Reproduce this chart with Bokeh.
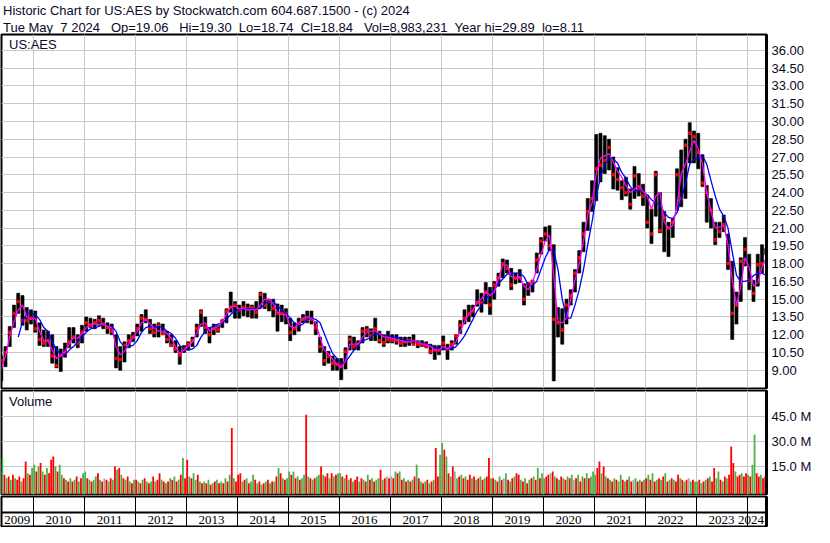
import pandas as pd
from bokeh.plotting import figure
from bokeh.layouts import column
from bokeh.models import (Range1d, FixedTicker, PrintfTickFormatter, Label, LabelSet, LinearAxis,
                          ColumnDataSource, Span, Title)
from bokeh.embed import file_html
from bokeh.resources import INLINE

# ---------------- data ----------------
title_line = "Historic Chart for US:AES by Stockwatch.com 604.687.1500 - (c) 2024"
NB = "\u00a0"
info_line = (f"Tue May{NB*2}7 2024{NB*3}Op=19.06{NB*3}Hi=19.30{NB*2}Lo=18.74{NB*2}"
             f"Cl=18.84{NB*3}Vol=8,983,231{NB*2}Year hi=29.89{NB*2}lo=8.11")
symbol = "US:AES"
volume_title = "Volume"
first_month, last_month = "2009-05", "2024-05"
years = [2009, 2010, 2011, 2012, 2013, 2014, 2015, 2016, 2017, 2018, 2019, 2020, 2021, 2022, 2023, 2024]
year_labels = ["2009", "2010", "2011", "2012", "2013", "2014", "2015", "2016", "2017", "2018",
               "2019", "2020", "2021", "2022", "2023", "2024"]
price_ticks = [9.00, 10.50, 12.00, 13.50, 15.00, 16.50, 18.00, 19.50, 21.00, 22.50, 24.00,
               25.50, 27.00, 28.50, 30.00, 31.50, 33.00, 34.50, 36.00]
volume_ticks = [15, 30, 45]  # millions

# monthly high / low / close, May 2009 .. May 2024
high = [10.2, 11.0, 12.7, 14.5, 15.5, 15.3, 14.3, 14.1,
        14.0, 13.0, 12.4, 12.3, 12.0, 11.0, 10.8, 11.3, 12.6, 12.6, 12.0, 12.8,
        13.5, 13.4, 13.3, 13.6, 13.4, 13.0, 12.9, 12.0, 11.0, 11.4, 12.0, 12.2,
        12.9, 13.7, 14.1, 13.3, 12.9, 13.0, 12.9, 12.3, 12.0, 11.5, 11.0, 11.1,
        11.4, 11.8, 12.9, 14.1, 13.5, 12.6, 12.9, 12.8, 13.2, 14.2, 15.6, 14.8,
        14.5, 14.8, 14.6, 14.5, 14.8, 15.6, 15.5, 15.0, 15.0, 14.6, 14.5, 14.2,
        13.4, 13.0, 13.4, 13.7, 14.0, 14.0, 13.1, 11.8, 11.0, 10.6, 10.2, 10.0,
        10.0, 10.9, 11.9, 11.8, 11.5, 12.6, 12.7, 12.5, 13.4, 12.3, 12.0, 12.3,
        12.0, 12.0, 11.8, 11.8, 11.8, 12.0, 11.5, 11.5, 11.4, 11.2, 11.1, 11.1,
        11.9, 11.2, 11.5, 12.0, 13.2, 14.1, 14.5, 14.5, 15.8, 15.5, 16.4, 16.0,
        16.5, 17.2, 18.4, 18.3, 17.6, 17.2, 17.5, 16.3, 16.4, 16.6, 18.9, 20.2,
        21.1, 21.2, 19.6, 14.3, 14.2, 15.0, 15.8, 17.5, 19.1, 21.5, 23.5, 25.0,
        28.9, 29.0, 28.8, 28.5, 27.0, 26.1, 25.0, 25.3, 24.3, 26.2, 25.6, 24.7,
        23.8, 22.6, 25.8, 24.0, 22.4, 21.5, 21.8, 26.0, 27.6, 28.5, 29.9, 29.2,
        29.0, 27.2, 24.6, 23.5, 21.5, 21.5, 22.1, 20.5, 18.2, 15.6, 18.5, 20.2,
        18.8, 16.6, 18.8, 19.6, 19.3]
low = [8.1, 9.3, 11.0, 12.6, 13.8, 12.8, 12.4, 12.9,
       12.2, 11.1, 11.0, 11.0, 9.6, 9.2, 8.9, 10.1, 10.9, 11.3, 10.9, 11.3,
       12.3, 12.6, 12.5, 12.8, 12.5, 12.1, 12.0, 9.2, 9.0, 9.7, 10.9, 11.4,
       11.9, 12.3, 13.0, 12.1, 11.8, 11.8, 12.0, 11.3, 11.0, 10.5, 9.5, 10.5,
       10.7, 11.0, 11.8, 12.7, 12.1, 11.3, 12.0, 12.2, 12.6, 13.0, 13.9, 13.4,
       13.4, 13.6, 13.5, 13.4, 13.4, 14.3, 14.2, 14.0, 13.5, 12.3, 13.1, 12.9,
       11.5, 12.0, 12.3, 13.0, 13.0, 12.9, 12.0, 10.5, 9.4, 9.6, 9.0, 9.0,
       8.2, 9.1, 10.7, 10.7, 10.7, 11.3, 11.8, 11.5, 11.5, 11.3, 11.0, 11.3,
       11.3, 11.2, 11.0, 11.0, 11.1, 11.2, 10.9, 11.0, 10.9, 10.4, 9.9, 10.3,
       10.7, 9.9, 10.7, 11.2, 12.1, 12.9, 13.1, 13.5, 14.4, 13.9, 14.6, 13.7,
       15.0, 16.1, 16.8, 17.2, 15.8, 16.3, 16.4, 14.5, 15.3, 15.6, 17.2, 18.8,
       19.9, 19.1, 8.1, 11.8, 11.2, 12.9, 14.5, 15.6, 17.2, 19.0, 20.8, 22.4,
       23.3, 24.9, 25.6, 25.9, 24.3, 24.2, 23.4, 23.7, 22.6, 23.5, 23.7, 22.9,
       21.0, 19.7, 22.0, 20.6, 19.0, 18.6, 20.2, 22.5, 22.8, 23.5, 26.5, 26.5,
       26.0, 24.5, 21.5, 21.0, 19.6, 20.2, 20.7, 17.5, 11.6, 12.9, 14.8, 17.8,
       15.8, 14.8, 16.1, 17.2, 18.74]
close = [9.8, 10.5, 12.2, 13.8, 14.8, 13.2, 13.2, 13.4,
         12.5, 11.6, 11.3, 11.5, 10.2, 9.4, 10.3, 10.5, 11.4, 11.8, 11.3, 12.2,
         13.0, 12.8, 13.0, 13.2, 12.9, 12.6, 12.3, 10.0, 9.9, 11.1, 11.5, 11.8,
         12.5, 13.4, 13.3, 12.5, 12.2, 12.8, 12.1, 11.6, 11.1, 10.8, 10.3, 10.8,
         11.2, 11.5, 12.5, 13.9, 12.6, 12.0, 12.5, 12.4, 13.2, 14.0, 14.3, 14.5,
         14.1, 14.3, 14.2, 14.3, 13.9, 15.4, 14.5, 14.8, 14.2, 13.8, 13.8, 13.8,
         12.2, 12.5, 12.9, 13.3, 13.3, 13.3, 12.6, 11.0, 9.8, 10.2, 9.6, 9.5,
         9.4, 10.6, 11.6, 11.0, 11.2, 12.3, 12.4, 11.9, 12.5, 11.5, 11.3, 11.6,
         11.5, 11.5, 11.3, 11.4, 11.5, 11.2, 11.2, 11.2, 11.0, 10.6, 10.7, 10.7,
         11.3, 10.8, 11.2, 11.9, 12.8, 13.4, 13.8, 14.0, 14.7, 14.7, 15.6, 14.5,
         16.2, 16.8, 18.0, 17.6, 16.2, 16.8, 16.8, 15.0, 16.3, 16.5, 18.3, 19.9,
         20.5, 19.5, 13.3, 13.0, 12.4, 14.5, 15.3, 17.2, 18.5, 20.5, 22.4, 23.5,
         26.0, 26.3, 26.7, 27.8, 25.5, 25.1, 24.4, 24.0, 23.0, 25.4, 24.3, 23.7,
         21.5, 20.5, 25.5, 20.8, 21.9, 21.0, 21.5, 25.5, 23.5, 28.0, 29.0, 28.7,
         27.4, 24.8, 24.0, 22.5, 20.0, 20.7, 21.3, 18.0, 13.8, 14.5, 18.2, 19.2,
         16.6, 15.5, 17.9, 18.0, 18.84]
# short (magenta) and long (blue) moving averages as drawn, monthly readings
ma_short = [9.1, 10.2, 11.8, 13.1, 14.1, 14.5, 13.5, 13.3,
            13.4, 12.3, 11.5, 11.5, 10.7, 10.0, 10.2, 10.6, 11.2, 11.8, 11.7, 12.1,
            12.6, 12.9, 12.9, 12.9, 12.9, 12.7, 12.6, 11.0, 10.3, 10.6, 11.2, 11.8,
            12.3, 13.0, 13.3, 12.9, 12.5, 12.3, 12.3, 12.1, 11.7, 11.0, 10.4, 10.7,
            11.0, 11.4, 12.1, 12.9, 13.0, 12.3, 12.5, 12.7, 13.1, 13.7, 14.4, 14.4,
            14.2, 14.2, 14.1, 14.1, 14.1, 14.5, 15.0, 15.0, 14.6, 13.9, 13.7, 13.7,
            12.7, 12.6, 13.0, 13.4, 13.5, 13.4, 13.0, 11.8, 10.7, 10.4, 9.9, 9.5,
            9.2, 9.8, 11.2, 11.2, 11.2, 11.8, 12.2, 12.3, 12.3, 12.1, 11.8, 11.8,
            11.7, 11.6, 11.5, 11.4, 11.4, 11.5, 11.4, 11.2, 11.2, 11.0, 10.7, 10.7,
            11.0, 10.8, 11.0, 11.4, 12.3, 13.1, 13.7, 14.1, 14.8, 15.0, 15.6, 15.3,
            15.6, 16.7, 17.9, 17.9, 16.9, 16.7, 16.9, 16.1, 15.8, 16.4, 17.5, 18.8,
            19.9, 20.4, 17.0, 13.1, 13.0, 13.4, 15.0, 16.6, 18.0, 19.9, 22.1, 23.1,
            25.6, 26.9, 27.1, 27.3, 26.6, 25.8, 25.3, 24.6, 24.0, 24.3, 24.6, 24.1,
            23.7, 22.6, 23.7, 24.0, 21.5, 21.0, 21.2, 22.9, 25.6, 26.4, 27.5, 28.4,
            27.7, 26.4, 24.0, 22.5, 21.0, 21.1, 21.2, 19.6, 16.6, 14.5, 16.1, 18.5,
            17.7, 16.1, 16.4, 17.7, 18.5]
nan = float("nan")
ma_long = [nan, nan, nan, nan, 11.8, 13.1, 13.8, 13.8,
           13.7, 13.3, 12.6, 12.3, 11.4, 10.7, 10.4, 10.3, 10.7, 11.0, 11.4, 11.8,
           12.2, 12.5, 12.6, 12.7, 12.9, 12.7, 12.7, 12.3, 11.4, 11.0, 11.0, 11.1,
           11.5, 12.2, 12.6, 12.7, 12.6, 12.7, 12.6, 12.3, 12.1, 11.7, 11.1, 10.8,
           10.7, 10.8, 11.1, 11.8, 12.3, 12.6, 12.7, 12.9, 13.0, 13.3, 13.7, 14.0,
           14.1, 14.2, 14.2, 14.2, 14.2, 14.2, 14.6, 14.8, 14.8, 14.4, 14.1, 13.8,
           13.4, 13.0, 12.7, 12.9, 13.3, 13.4, 13.3, 13.0, 12.1, 11.2, 10.4, 10.0,
           9.6, 9.7, 10.2, 10.7, 11.1, 11.5, 11.6, 11.8, 12.1, 12.1, 11.9, 11.9,
           11.8, 11.8, 11.7, 11.5, 11.5, 11.5, 11.4, 11.3, 11.2, 11.1, 11.0, 10.8,
           10.8, 10.8, 10.8, 11.0, 11.4, 11.9, 12.6, 13.3, 14.0, 14.5, 15.0, 15.4,
           15.8, 16.3, 16.7, 17.1, 17.2, 17.2, 17.2, 16.9, 16.2, 16.2, 16.5, 17.5,
           18.5, 19.2, 19.1, 17.5, 15.0, 13.4, 13.4, 14.5, 15.8, 17.5, 19.6, 21.5,
           23.7, 25.3, 26.4, 26.8, 26.8, 26.5, 25.7, 25.2, 24.5, 24.1, 24.2, 24.1,
           23.8, 23.4, 23.1, 23.0, 22.3, 21.9, 21.8, 22.3, 23.4, 24.8, 26.4, 26.8,
           26.9, 27.1, 26.4, 25.0, 23.7, 22.6, 22.0, 21.0, 19.0, 17.0, 16.5, 16.5,
           16.6, 17.0, 17.2, 17.2, 17.0]
# half-monthly volume (millions) and its colour code (g=up, r=down, n=unchanged)
volume_by_year = {
    2009: [12, 20, 10, 8, 9, 7, 10, 8, 7, 9, 6, 8, 18, 11, 10, 14],
    2010: [16, 12, 15, 17, 12, 10, 14, 11, 19, 21, 15, 12, 16, 10, 8, 7, 6, 8, 6, 7, 9, 6, 8, 11],
    2011: [12, 8, 7, 6, 7, 9, 11, 7, 6, 8, 7, 6, 8, 7, 15, 13, 14, 10, 8, 7, 9, 6, 5, 7],
    2012: [7, 6, 5, 7, 8, 6, 5, 6, 9, 6, 7, 11, 7, 6, 5, 6, 8, 7, 9, 6, 7, 10, 20, 8],
    2013: [19, 9, 8, 11, 7, 10, 6, 5, 6, 5, 7, 4, 5, 6, 7, 5, 6, 5, 8, 6, 10, 38, 8, 6],
    2014: [10, 11, 6, 7, 8, 5, 6, 10, 7, 5, 6, 4, 5, 6, 7, 5, 6, 6, 9, 14, 11, 8, 7, 8],
    2015: [12, 10, 12, 8, 9, 7, 8, 10, 46, 9, 8, 7, 8, 9, 10, 15, 10, 9, 11, 8, 11, 9, 10, 11],
    2016: [11, 9, 8, 10, 7, 8, 6, 7, 9, 6, 8, 7, 6, 10, 7, 8, 6, 7, 8, 13, 7, 8, 9, 8],
    2017: [9, 8, 12, 11, 12, 7, 8, 6, 7, 6, 7, 9, 16, 8, 6, 5, 6, 7, 5, 6, 7, 26, 9, 22],
    2018: [29, 25, 21, 11, 9, 15, 12, 8, 9, 10, 8, 9, 7, 10, 8, 9, 7, 8, 9, 7, 8, 9, 20, 8],
    2019: [8, 7, 6, 9, 7, 8, 11, 7, 6, 8, 9, 11, 10, 7, 6, 8, 5, 7, 8, 9, 7, 14, 8, 11],
    2020: [8, 9, 10, 11, 12, 9, 8, 7, 9, 8, 7, 9, 8, 10, 7, 8, 10, 6, 9, 8, 11, 8, 9, 12],
    2021: [10, 14, 18, 11, 15, 9, 8, 7, 6, 8, 7, 6, 10, 7, 6, 7, 9, 6, 7, 8, 6, 7, 6, 7],
    2022: [8, 10, 7, 11, 6, 7, 8, 7, 9, 11, 6, 7, 8, 7, 6, 10, 8, 7, 6, 7, 8, 6, 7, 6],
    2023: [6, 7, 5, 6, 7, 8, 9, 6, 14, 8, 12, 7, 6, 9, 8, 10, 27, 17, 12, 9, 10, 11, 9, 11],
    2024: [10, 9, 16, 34, 11, 9, 10, 8, 9],
}
volume_dir_by_year = {
    2009: "ngrgrgrgrrgrrgrg",
    2010: "grgrgrgrrrgrggrgrgrgrgrg",
    2011: "grgrggrgrnrgrgrgrgrgrgrg",
    2012: "rgrgrgrgrgrrgrgrgrgrgrgr",
    2013: "rgrggrgrgrgrgrgrgrgrgrgr",
    2014: "rrgrgrggrgrgrgrgrgrgrgrg",
    2015: "grgrgrggrgrgrggrgrrgrgrg",
    2016: "grgrgrgrrgrgrgrgrggrgrnr",
    2017: "nrgrgrgrgrgrgrgrgrgrgrrg",
    2018: "grgrgrngrgrgrrgrgrgrgrrg",
    2019: "rgrgrngrgrgrrgrgrgrgrgrg",
    2020: "grrnrgrgrgrgrgnrgrgrgrgg",
    2021: "grrgrgrgrgrggrgrgrngrgrg",
    2022: "rgrgrgrgrgrgrgrrgrgrngrg",
    2023: "grgrgrgrrggrgrgrrrgrrgrr",
    2024: "grggrrgrr",
}

# ---------------- layout constants ----------------
W = 814
LEFT, RIGHT = 1, 47
FRAME_W = W - LEFT - RIGHT
H_HDR, H_PRICE, H_VOL, H_BOT = 30, 359, 106, 32
FONT = "Liberation Sans"
FS = "13px"
TXT = "#0a0a28"
GRIDC = "#c8c8c8"
X0, X1 = 2009.38, 2024.38
P_LO, P_HI = 7.46, 37.34
V_LO, V_HI = -1.8, 60.5
UP, DOWN, FLAT = "#4db04d", "#ff0000", "#a8a8a8"

# ---------------- derived positions ----------------
months = pd.period_range(first_month, last_month, freq="M")
mx = [m.year + (m.month - 1) / 12 + 1 / 24 for m in months]
vol = [v for y in years for v in volume_by_year[y]]
vdir = "".join(volume_dir_by_year[y] for y in years)
vx = [m.year + (m.month - 1) / 12 + (k + 0.5) / 24 for m in months for k in (0, 1)][:len(vol)]
cmap = {"g": UP, "r": DOWN, "n": FLAT}
vcol = [cmap[c] for c in vdir]
assert len(mx) == len(high) == len(low) == len(close) == len(ma_short) == len(ma_long)
assert len(vx) == len(vol) == len(vcol)
year_bounds = [y for y in years if X0 < y < X1]
pxy = FRAME_W / (X1 - X0)
half_label = 15.5 / pxy
year_label_x = [min((max(y, X0) + min(y + 1, X1)) / 2, X1 - half_label) for y in years]

xr = Range1d(X0, X1)


def make_fig(height, yr, mb_top=1, mb_bottom=1):
    f = figure(width=W, height=height, x_range=xr, y_range=yr, toolbar_location=None,
               output_backend="svg", x_axis_location=None, y_axis_location=None,
               min_border_left=LEFT, min_border_right=RIGHT,
               min_border_top=mb_top, min_border_bottom=mb_bottom)
    f.outline_line_color = "black"
    f.outline_line_width = 2
    f.outline_line_alpha = 1
    f.background_fill_color = "white"
    f.border_fill_color = "white"
    return f


def right_axis(f, ticks, fmt):
    ax = LinearAxis(ticker=FixedTicker(ticks=ticks), formatter=PrintfTickFormatter(format=fmt))
    ax.axis_line_color = "black"
    ax.axis_line_width = 3
    ax.major_tick_line_color = None
    ax.minor_tick_line_color = None
    ax.major_tick_out = 0
    ax.major_tick_in = 0
    ax.major_label_standoff = 5
    ax.major_label_text_font = FONT
    ax.major_label_text_font_size = FS
    ax.major_label_text_color = TXT
    f.add_layout(ax, "right")
    return ax


def style_title(t):
    t.align = "left"
    t.offset = 1.5
    t.standoff = 0
    t.text_font = FONT
    t.text_font_size = FS
    t.text_font_style = "normal"
    t.text_color = TXT
    t.text_line_height = 1.0


# ---------------- price panel with header titles ----------------
pf = make_fig(H_HDR + H_PRICE, Range1d(P_LO, P_HI), mb_top=0, mb_bottom=1)
pf.title.text = title_line          # top line
style_title(pf.title)
t2 = Title(text=info_line)          # second line, just above the frame
style_title(t2)
pf.add_layout(t2, "above")
pf.xgrid.ticker = FixedTicker(ticks=year_bounds)
pf.ygrid.ticker = FixedTicker(ticks=price_ticks)
pf.grid.grid_line_color = GRIDC
pf.grid.grid_line_width = 1
psrc = ColumnDataSource(dict(x=mx, hi=high, lo=low, cl=close, ms=ma_short, ml=ma_long))
pf.vbar(x="x", top="hi", bottom="lo", width=0.72 / 12, source=psrc,
        fill_color="black", line_color="black", line_width=0.6)
pf.scatter(x="x", y="cl", source=psrc, marker="square", size=2.4, color="#ff0000")
pf.line(x="x", y="ml", source=psrc, color="#0000ff", line_width=1.3)
pf.line(x="x", y="ms", source=psrc, color="#ff00ff", line_width=1.3)
right_axis(pf, price_ticks, "%.2f")
pxp = (H_PRICE - 2) / (P_HI - P_LO)
pf.add_layout(Label(x=X0 + 7.5 / pxy, y=P_HI - 3 / pxp, text=symbol, text_baseline="top",
                    text_font=FONT, text_font_size=FS, text_color=TXT))

# ---------------- volume panel ----------------
vf = make_fig(H_VOL, Range1d(V_LO, V_HI))
vf.xgrid.ticker = FixedTicker(ticks=year_bounds)
vf.ygrid.ticker = FixedTicker(ticks=volume_ticks)
vf.grid.grid_line_color = GRIDC
vsrc = ColumnDataSource(dict(x=vx, v=vol, c=vcol))
vf.vbar(x="x", top="v", bottom=V_LO, width=0.85 / 24, source=vsrc, fill_color="c", line_color=None)
right_axis(vf, volume_ticks, "%.1f M")
pxv = (H_VOL - 2) / (V_HI - V_LO)
vf.add_layout(Label(x=X0 + 7.5 / pxy, y=V_HI - 3.5 / pxv, text=volume_title, text_baseline="top",
                    text_font=FONT, text_font_size=FS, text_color=TXT))

# ---------------- year strip + year labels ----------------
bf = make_fig(H_BOT, Range1d(0, 1), mb_top=1, mb_bottom=1)
bf.xgrid.ticker = FixedTicker(ticks=year_bounds)
bf.xgrid.grid_line_color = "black"
bf.xgrid.grid_line_width = 1
bf.ygrid.visible = False
bf.add_layout(Span(location=0.47, dimension="width", line_color="black", line_width=2))
ysrc = ColumnDataSource(dict(x=year_label_x, y=[0.22] * len(year_label_x), t=year_labels))
bf.add_layout(LabelSet(x="x", y="y", text="t", source=ysrc, text_font=FONT, text_font_size=FS,
                       text_color="#000000", text_align="center", text_baseline="middle"))
by = LinearAxis(ticker=FixedTicker(ticks=[]))
by.axis_line_color = "black"
by.axis_line_width = 3
by.major_tick_line_color = None
by.minor_tick_line_color = None
by.major_label_text_font_size = "0px"
bf.add_layout(by, "right")

layout = column(pf, vf, bf, spacing=0)

open("out.html", "w").write(file_html(layout, INLINE))
